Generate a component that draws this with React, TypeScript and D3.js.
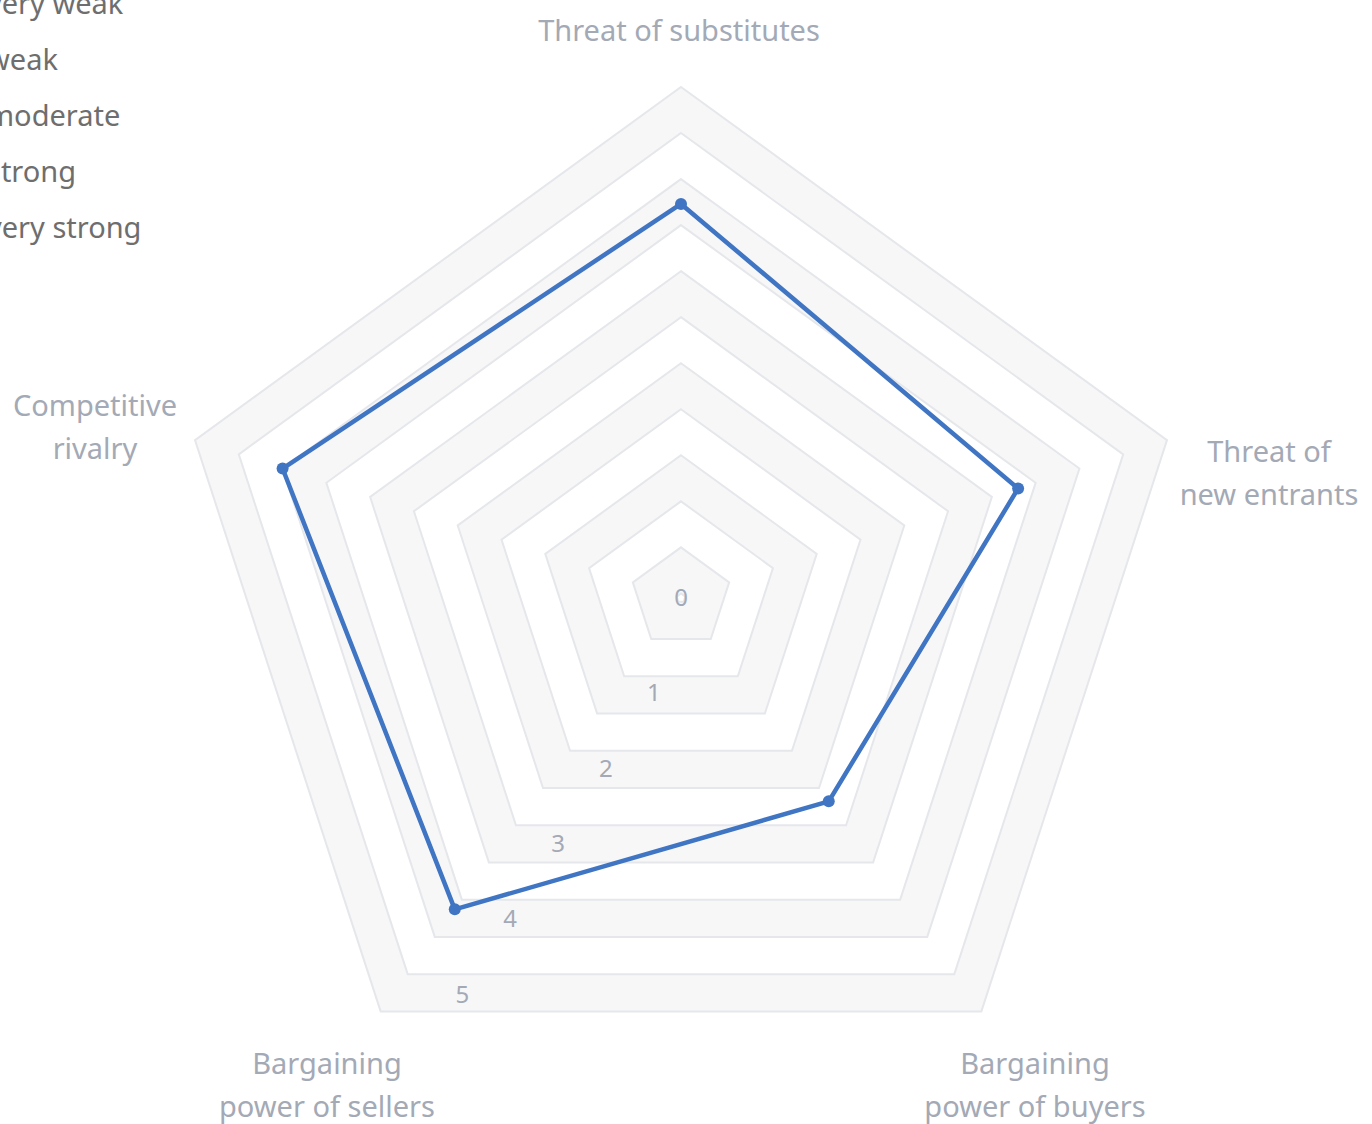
import React from "react";
import * as d3 from "d3";

const axes = [
  ["Threat of substitutes"],
  ["Threat of", "new entrants"],
  ["Bargaining", "power of buyers"],
  ["Bargaining", "power of sellers"],
  ["Competitive", "rivalry"],
];
const values = [3.98, 3.55, 2.43, 3.88, 4.25];
const levels = [0, 1, 2, 3, 4, 5];
const legendItems = ["very weak", "weak", "moderate", "strong", "very strong"];

const W = 1372;
const H = 1124;
const cx = 681;
const cy = 598;
const RMAX = 511;
const FONT = "'Noto Sans', 'Open Sans', sans-serif";

// label block centers (layout offsets relative to chart center)
const labelOffsets: [number, number][] = [
  [-2, -569],
  [588, -126],
  [354, 486],
  [-354, 486],
  [-586, -172],
];

export default function App() {
  const r = d3.scaleLinear().domain([-0.3, 5.25]).range([0, RMAX]);
  const n = axes.length;
  const angle = d3.scaleLinear().domain([0, n]).range([0, 2 * Math.PI]);
  const pt = (i: number, rad: number): [number, number] => [
    cx + rad * Math.sin(angle(i)),
    cy - rad * Math.cos(angle(i)),
  ];
  const poly = (rad: number) => {
    const pts = d3.range(n).map((i) => pt(i, rad));
    return "M" + pts.map((p) => p.join(",")).join("L") + "Z";
  };

  const line = d3
    .line<number>()
    .x((v, i) => pt(i, r(v))[0])
    .y((v, i) => pt(i, r(v))[1])
    .curve(d3.curveLinearClosed);

  const bands = levels.map((k) => {
    const lo = Math.max(0, r(k - 0.25));
    const hi = r(k + 0.25);
    return { k, lo, hi };
  });

  return (
    <svg
      width={W}
      height={H}
      style={{ position: "absolute", left: 0, top: 0, overflow: "hidden", background: "#fff" }}
    >
      {bands.map((b) => (
        <g key={b.k}>
          <path
            d={poly(b.hi) + (b.lo > 0 ? poly(b.lo) : "")}
            fill="#f7f7f8"
            fillRule="evenodd"
            stroke="none"
          />
          <path d={poly(b.hi)} fill="none" stroke="#e5e7eb" strokeWidth={2} />
          {b.lo > 0 && <path d={poly(b.lo)} fill="none" stroke="#e5e7eb" strokeWidth={2} />}
        </g>
      ))}
      {levels.map((k) => {
        const R = r(k);
        const x = k === 0 ? cx : cx + 35 - 0.52 * R;
        const y = k === 0 ? cy - 2 : cy - 4 + 0.818 * R;
        return (
          <text
            key={k}
            x={x}
            y={y}
            textAnchor="middle"
            dominantBaseline="central"
            fontFamily={FONT}
            fontSize={24}
            fill="#a3a9b5"
          >
            {k}
          </text>
        );
      })}
      <path d={line(values) || ""} fill="none" stroke="#3f75c2" strokeWidth={4.5} strokeLinejoin="round" />
      {values.map((v, i) => {
        const [x, y] = pt(i, r(v));
        return <circle key={i} cx={x} cy={y} r={6} fill="#3f75c2" />;
      })}
      {axes.map((lines, i) => {
        const [dx, dy] = labelOffsets[i];
        const lh = 43;
        const y0 = cy + dy - ((lines.length - 1) * lh) / 2;
        return (
          <text
            key={i}
            textAnchor="middle"
            fontFamily={FONT}
            fontSize={29}
            fill="#a3a9b5"
          >
            {lines.map((t, j) => (
              <tspan key={j} x={cx + dx} y={y0 + j * lh} dominantBaseline="central">
                {t}
              </tspan>
            ))}
          </text>
        );
      })}
      {legendItems.map((t, i) => (
        <text
          key={t}
          x={-13}
          y={2 + i * 56}
          dominantBaseline="central"
          fontFamily={FONT}
          fontSize={29}
          fill="#6e6e6e"
        >
          {t}
        </text>
      ))}
    </svg>
  );
}
